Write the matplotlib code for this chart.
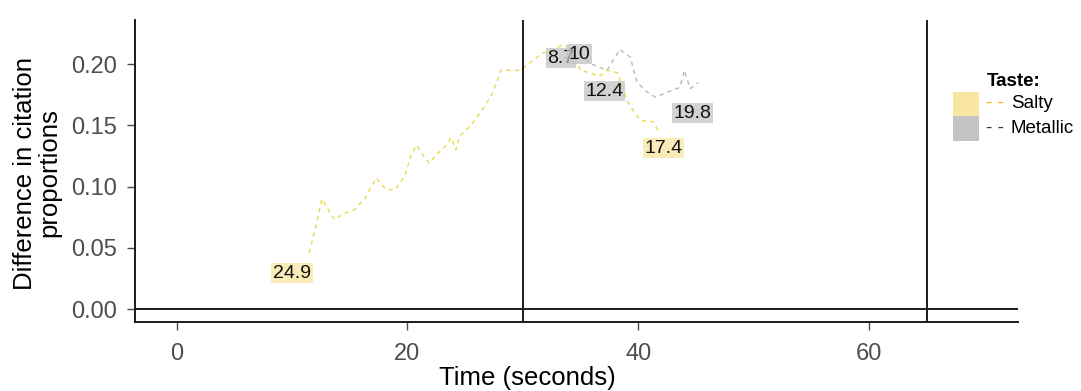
import matplotlib
matplotlib.use("Agg")
import matplotlib.pyplot as plt
from matplotlib.patches import Rectangle

plt.rcParams['font.family'] = ['Liberation Sans', 'DejaVu Sans']

# time (s) and difference in citation proportions, per taste
salty_t = [11.5, 12.0, 12.6, 13.2, 13.7, 14.5, 15.4, 16.3, 17.3, 18.1, 18.9, 19.8,
           20.3, 20.8, 21.4, 21.9, 22.5, 23.2, 23.8, 24.2, 24.5, 25.5, 26.5, 27.3,
           27.8, 28.1, 29.0, 29.8, 30.6, 31.7, 32.6, 33.5, 34.2, 35.0, 35.8, 36.6,
           37.3, 38.2, 39.0, 39.5, 40.2, 41.3, 41.7]
salty_d = [0.046, 0.065, 0.090, 0.080, 0.073, 0.078, 0.081, 0.090, 0.107, 0.098,
           0.097, 0.109, 0.125, 0.134, 0.125, 0.119, 0.126, 0.132, 0.140, 0.130,
           0.141, 0.150, 0.163, 0.175, 0.187, 0.195, 0.195, 0.195, 0.201, 0.209,
           0.212, 0.216, 0.212, 0.195, 0.193, 0.190, 0.195, 0.193, 0.171, 0.163,
           0.154, 0.153, 0.146]
metal_t = [33.5, 34.8, 36.0, 37.3, 38.4, 39.3, 39.9, 40.8, 41.5, 42.0, 42.5, 43.0,
           43.6, 44.0, 44.5, 45.2]
metal_d = [0.205, 0.209, 0.200, 0.195, 0.212, 0.206, 0.185, 0.177, 0.173, 0.175,
           0.177, 0.179, 0.181, 0.195, 0.180, 0.185]

# point labels: text, time, value, taste
lab_text = ['24.9', '8.7', '10', '12.4', '17.4', '19.8']
lab_t = [10.0, 33.3, 34.9, 37.1, 42.2, 44.7]
lab_d = [0.0294, 0.205, 0.208, 0.178, 0.1315, 0.160]
lab_taste = ['Salty', 'Metallic', 'Metallic', 'Metallic', 'Salty', 'Metallic']

line_col = {'Salty': '#ecd84a', 'Metallic': '#b8b8b8'}
fill_col = {'Salty': '#f9e6a0', 'Metallic': '#c4c4c4'}

fig = plt.figure(figsize=(10.81, 3.91), dpi=100)
ax = fig.add_axes([0.1249, 0.1765, 0.8168, 0.7723])

ax.plot(salty_t, salty_d, ls=(0, (3, 3)), lw=1.0, color=line_col['Salty'])
ax.plot(metal_t, metal_d, ls=(0, (3, 3)), lw=1.0, color=line_col['Metallic'])

for txt, t, d, k in zip(lab_text, lab_t, lab_d, lab_taste):
    ax.text(t, d, txt, ha='center', va='center', fontsize=14, color='#111111',
            bbox=dict(boxstyle='square,pad=0.08', fc=fill_col[k], ec='none', alpha=0.75))

ax.axhline(0, color='#1a1a1a', lw=1.4)
for v in [30, 65]:
    ax.axvline(v, color='#1a1a1a', lw=1.4)

ax.set_xlim(-3.6, 72.9)
ax.set_ylim(-0.0106, 0.2361)
ax.set_xticks([0, 20, 40, 60])
ax.set_yticks([0.0, 0.05, 0.10, 0.15, 0.20])
ax.set_yticklabels(['0.00', '0.05', '0.10', '0.15', '0.20'])
ax.tick_params(labelsize=17, colors='#4d4d4d', length=6, width=1)
ax.tick_params(axis='x', pad=9)
ax.tick_params(axis='y', pad=7)
for s in ['top', 'right']:
    ax.spines[s].set_visible(False)
for s in ['left', 'bottom']:
    ax.spines[s].set_color('#1a1a1a')
    ax.spines[s].set_linewidth(1.4)

fig.text(527 / 1081, 1 - 378 / 391, 'Time (seconds)', ha='center', va='center', fontsize=18.5)
fig.text(37 / 1081, 1 - 173 / 391, 'Difference in citation\nproportions', ha='center',
         va='center', rotation=90, fontsize=18.5, linespacing=1.05)

# legend
fig.text(987 / 1081, 1 - 82 / 391, 'Taste:', fontsize=13.5, fontweight='bold', va='center')
leg_rows = [('Salty', '#f5b800', 103), ('Metallic', '#333333', 128)]
for name, dash_col, yc in leg_rows:
    fig.patches.append(Rectangle((953 / 1081, 1 - (yc + 12.5) / 391), 26 / 1081, 24 / 391,
                                 transform=fig.transFigure, fc=fill_col[name], ec='none'))
    fig.text(986 / 1081, 1 - yc / 391, '- -', color=dash_col, fontsize=13.5, va='center')
    fig.text(1011 / 1081, 1 - yc / 391, name, fontsize=13.5, va='center')

fig.savefig('out.png', dpi=100)
